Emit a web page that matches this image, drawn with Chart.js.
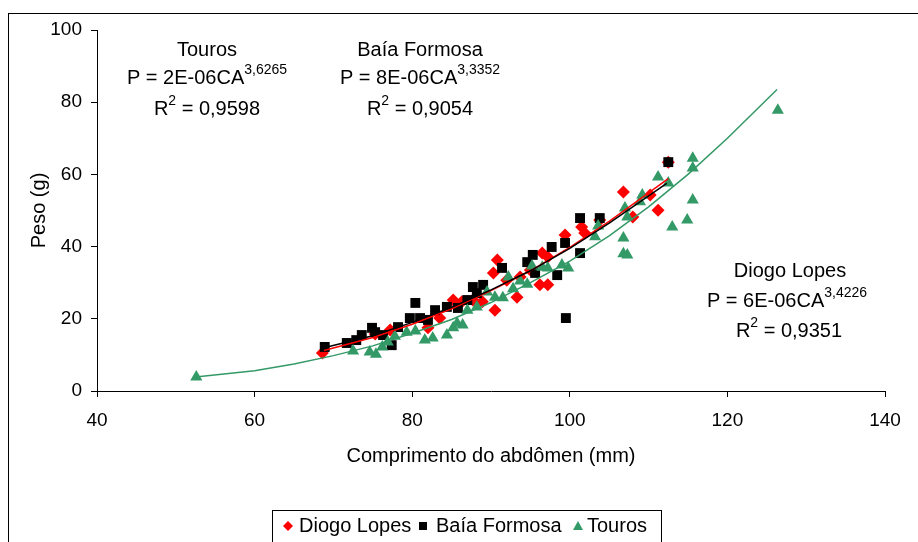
<!DOCTYPE html>
<html>
<head>
<meta charset="utf-8">
<script src="https://cdn.jsdelivr.net/npm/chart.js@4.4.1/dist/chart.umd.min.js"></script>
<style>
  html, body { margin: 0; padding: 0; background: #fff; }
</style>
</head>
<body>
<canvas id="chart" width="918" height="542"></canvas>
<script>
// scatter values (x = abdomen length mm, y = weight g)
const diogoX = [68.6, 75.3, 77.2, 82.0, 83.5, 85.2, 86.3, 87.7, 88.9, 90.5, 90.3, 90.8, 92.0, 93.3, 93.7, 95.0, 96.2, 97.2, 96.5, 97.2, 99.4, 101.5, 101.9, 103.8, 106.8, 108.0, 110.2, 111.2, 112.5];
const diogoY = [10.5, 15.8, 16.9, 17.5, 20.2, 25.2, 24.7, 25.2, 24.7, 22.4, 32.7, 36.3, 30.7, 26.0, 31.6, 33.5, 29.4, 29.4, 38.2, 37.1, 43.2, 45.4, 43.8, 47.4, 55.1, 48.2, 54.3, 50.1, 63.4];

const baiaX = [68.9, 71.7, 72.9, 73.6, 74.9, 75.3, 76.3, 77.4, 78.2, 79.7, 80.4, 81.0, 82.0, 82.9, 84.4, 85.8, 87.0, 87.7, 88.2, 89.0, 91.4, 94.6, 95.3, 95.6, 97.7, 98.4, 99.4, 99.5, 101.3, 101.3, 103.8, 112.5];
const baiaY = [12.2, 13.3, 14.1, 15.5, 17.5, 16.3, 15.5, 12.7, 17.7, 20.2, 24.4, 20.2, 19.7, 22.4, 23.3, 23.0, 25.2, 28.8, 27.1, 29.4, 34.1, 35.7, 37.7, 32.7, 39.9, 32.1, 41.0, 20.2, 47.9, 38.2, 47.9, 63.4];

const tourosX = [52.6, 72.5, 74.6, 75.4, 76.2, 76.9, 77.8, 79.3, 80.4, 81.6, 82.6, 84.4, 85.2, 85.7, 86.4, 87.0, 88.2, 89.5, 90.5, 91.5, 92.2, 92.8, 93.7, 94.6, 95.2, 96.5, 97.2, 99.0, 99.8, 103.2, 103.6, 106.8, 106.8, 107.3, 107.0, 107.3, 108.9, 109.2, 111.2, 112.5, 113.0, 114.9, 115.6, 115.6, 115.6, 126.4];
const tourosY = [3.9, 11.1, 10.8, 10.2, 12.2, 13.6, 15.2, 16.3, 16.6, 14.1, 14.7, 15.5, 17.5, 18.8, 18.3, 22.4, 23.3, 27.4, 26.0, 25.8, 31.6, 28.3, 30.5, 29.6, 34.6, 34.3, 34.1, 34.9, 34.1, 42.7, 45.7, 42.4, 38.0, 37.7, 50.7, 48.2, 52.4, 54.3, 59.3, 57.6, 45.4, 47.4, 52.9, 61.8, 64.5, 77.8];

// trend lines, points
const trendDiogoX = [68.8, 75, 80, 85, 90, 95, 100, 105, 112.5];
const trendDiogoY = [11.2, 14.8, 18.5, 22.8, 27.8, 33.3, 39.8, 47.0, 58.8];
const trendBaiaX = [68.8, 75, 80, 85, 90, 95, 100, 105, 112.3];
const trendBaiaY = [12.0, 15.3, 19.0, 23.2, 28.0, 33.3, 39.5, 46.5, 57.5];
const trendTourosX = [52.5, 60, 65, 70, 75, 80, 85, 90, 95, 100, 105, 110, 115, 120, 126.3];
const trendTourosY = [3.9, 5.6, 7.5, 9.8, 12.5, 16.0, 19.8, 24.5, 30.0, 36.0, 43.0, 51.0, 60.0, 70.0, 83.5];

const equations = [
  { x: 207, y: 50, parts: ['Touros'] },
  { x: 207, y: 78, parts: ['P = 2E-06CA', '3,6265'] },
  { x: 207, y: 109, parts: ['R', '2', ' = 0,9598'] },
  { x: 420, y: 50, parts: ['Baía Formosa'] },
  { x: 420, y: 78, parts: ['P = 8E-06CA', '3,3352'] },
  { x: 420, y: 109, parts: ['R', '2', ' = 0,9054'] },
  { x: 790, y: 271, parts: ['Diogo Lopes'] },
  { x: 787, y: 301, parts: ['P = 6E-06CA', '3,4226'] },
  { x: 789, y: 331, parts: ['R', '2', ' = 0,9351'] }
];

const RED = '#ff0000';
const BLACK = '#000000';
const GREEN = '#339966';
const FONT = '"Liberation Sans", Arial, sans-serif';

const zip = (xs, ys) => xs.map((x, i) => ({ x: x, y: ys[i] }));

const extras = {
  id: 'extras',
  beforeDraw(chart) {
    const ctx = chart.ctx;
    ctx.save();
    ctx.fillStyle = '#fff';
    ctx.fillRect(0, 0, chart.width, chart.height);
    ctx.restore();
  },
  afterDraw(chart) {
    const ctx = chart.ctx;
    ctx.save();
    // outer frame (right and bottom edges are off the picture)
    ctx.strokeStyle = '#000';
    ctx.lineWidth = 1;
    ctx.strokeRect(8.5, 13.5, 1000, 1000);

    // equation labels: base text + superscript + rest
    ctx.fillStyle = '#000';
    ctx.textBaseline = 'middle';
    ctx.textAlign = 'left';
    const big = '20px ' + FONT, small = '14px ' + FONT;
    equations.forEach(eq => {
      const p = eq.parts;
      ctx.font = big;
      const w0 = ctx.measureText(p[0]).width;
      const w2 = p[2] ? ctx.measureText(p[2]).width : 0;
      ctx.font = small;
      const w1 = p[1] ? ctx.measureText(p[1]).width : 0;
      let x = eq.x - (w0 + w1 + w2) / 2;
      ctx.font = big;
      ctx.fillText(p[0], x, eq.y);
      x += w0;
      if (p[1]) {
        ctx.font = small;
        ctx.fillText(p[1], x, eq.y - 8);
        x += w1;
      }
      if (p[2]) {
        ctx.font = big;
        ctx.fillText(p[2], x, eq.y);
      }
    });

    // legend box
    ctx.strokeRect(272.5, 510.5, 389, 60);
    const ly = 526;
    ctx.font = '20px ' + FONT;
    ctx.fillStyle = RED;
    ctx.beginPath();
    ctx.moveTo(288, ly - 5); ctx.lineTo(293, ly); ctx.lineTo(288, ly + 5); ctx.lineTo(283, ly);
    ctx.closePath(); ctx.fill();
    ctx.fillStyle = '#000';
    ctx.fillText('Diogo Lopes', 299, ly);
    ctx.fillRect(419, ly - 4, 8, 8);
    ctx.fillText('Baía Formosa', 436, ly);
    ctx.fillStyle = GREEN;
    ctx.beginPath();
    ctx.moveTo(578, ly - 5); ctx.lineTo(583, ly + 4); ctx.lineTo(573, ly + 4);
    ctx.closePath(); ctx.fill();
    ctx.fillStyle = '#000';
    ctx.fillText('Touros', 587, ly);
    ctx.restore();
  }
};

new Chart(document.getElementById('chart'), {
  type: 'scatter',
  data: {
    datasets: [
      {
        label: 'Tendência Diogo Lopes',
        data: zip(trendDiogoX, trendDiogoY),
        showLine: true, borderColor: RED, borderWidth: 1.5,
        pointRadius: 0, fill: false, order: 1
      },
      {
        label: 'Tendência Baía Formosa',
        data: zip(trendBaiaX, trendBaiaY),
        showLine: true, borderColor: BLACK, borderWidth: 1.5,
        pointRadius: 0, fill: false, order: 0
      },
      {
        label: 'Tendência Touros',
        data: zip(trendTourosX, trendTourosY),
        showLine: true, borderColor: GREEN, borderWidth: 1.5,
        pointRadius: 0, fill: false, order: 0
      },
      {
        label: 'Diogo Lopes',
        data: zip(diogoX, diogoY),
        pointStyle: 'rectRot', pointRadius: 6.5,
        backgroundColor: RED, borderColor: RED, borderWidth: 0, order: 4
      },
      {
        label: 'Baía Formosa',
        data: zip(baiaX, baiaY),
        pointStyle: 'rect', pointRadius: 7,
        backgroundColor: BLACK, borderColor: BLACK, borderWidth: 0, order: 3
      },
      {
        label: 'Touros',
        data: zip(tourosX, tourosY),
        pointStyle: 'triangle', pointRadius: 7,
        backgroundColor: GREEN, borderColor: GREEN, borderWidth: 0, order: 2
      }
    ]
  },
  options: {
    responsive: false,
    animation: false,
    layout: { padding: { left: 20, top: 30, right: 33, bottom: 40 } },
    plugins: {
      legend: { display: false },
      tooltip: { enabled: false }
    },
    scales: {
      x: {
        type: 'linear',
        min: 40, max: 140,
        ticks: { stepSize: 20, color: '#000', padding: 12, font: { size: 19, family: FONT } },
        grid: { drawOnChartArea: false, drawTicks: true, tickLength: 6, color: '#000' },
        border: { color: '#000', width: 1 },
        title: {
          display: true, text: 'Comprimento do abdômen (mm)', color: '#000',
          font: { size: 20, family: FONT }, padding: { top: 0, bottom: 34 }
        },
        afterFit: s => { s.height = 111; }
      },
      y: {
        min: 0, max: 100,
        ticks: { stepSize: 20, color: '#000', padding: 9, font: { size: 19, family: FONT } },
        grid: { drawOnChartArea: false, drawTicks: true, tickLength: 6, color: '#000' },
        border: { color: '#000', width: 1 },
        title: {
          display: true, text: 'Peso (g)', color: '#000',
          font: { size: 20, family: FONT }, padding: { top: 7, bottom: 0 }
        },
        afterFit: s => { s.width = 77; }
      }
    }
  },
  plugins: [extras]
});
</script>
</body>
</html>
